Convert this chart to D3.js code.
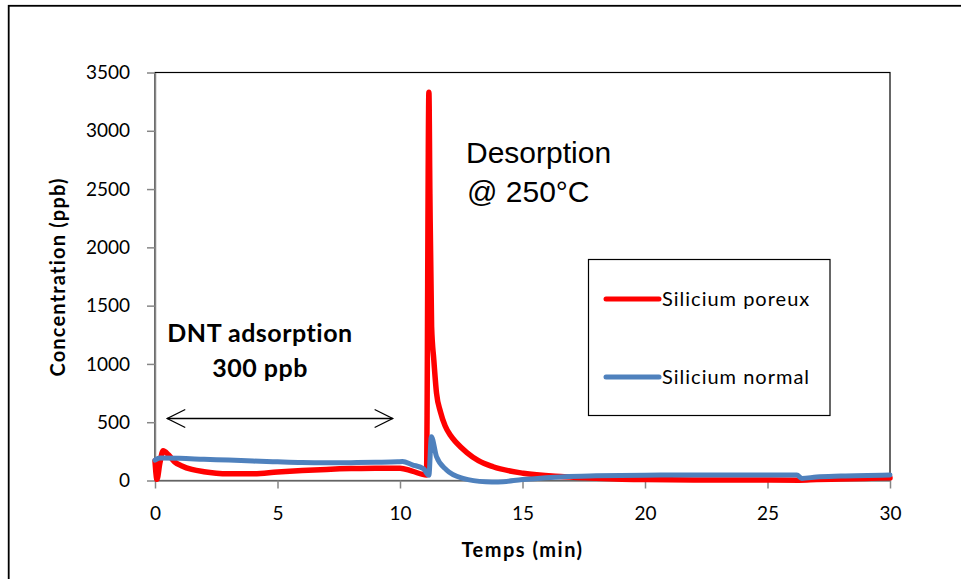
<!DOCTYPE html>
<html>
<head>
<meta charset="utf-8">
<script src="https://cdn.jsdelivr.net/npm/d3@7"></script>
<style>
body { margin: 0; background: #fff; }
.tick text { font-family: Lato, sans-serif; font-size: 19px; fill: #000; }
.axis path, .axis line { stroke: #868686; stroke-width: 1.5px; }
</style>
</head>
<body>
<script>
// Silicium poreux (red)
var poreuxT = [0, 0.08, 0.2, 0.33, 0.55, 0.8, 1.1, 1.5, 2, 2.5, 3, 4, 5, 6, 7, 8, 9, 10, 10.5, 11.08,
  11.18, 11.22, 11.29, 11.38, 11.49, 11.65, 11.84, 12.05, 12.3, 12.73, 13.2, 13.8, 15.03, 16.7, 18, 20, 22, 24, 26.3, 27, 28, 29, 30];
var poreuxV = [170, 10, 150, 255, 220, 160, 125, 95, 75, 63, 58, 57, 72, 85, 95, 102, 105, 106, 80, 48,
  3330, 2460, 1320, 1035, 750, 590, 470, 390, 325, 240, 170, 118, 62, 33, 20, 8, 5, 5, 3, 8, 13, 18, 23];
// Silicium normal (blue)
var normalT = [0, 0.2, 1, 2, 3, 4, 5, 6, 7, 8, 9, 9.9, 10.1, 10.5, 10.96, 11.18,
  11.28, 11.49, 11.9, 12.57, 13.5, 14, 15, 16.7, 18, 20, 22, 24, 26.2, 26.4, 27, 28, 30];
var normalV = [175, 192, 190, 182, 175, 167, 160, 154, 152, 153, 156, 160, 162, 135, 100, 45,
  376, 204, 90, 19, -10, -12, 8, 33, 40, 45, 48, 48, 47, 18, 30, 38, 47];

var xTicks = [0, 5, 10, 15, 20, 25, 30];
var yTicks = [0, 500, 1000, 1500, 2000, 2500, 3000, 3500];

var W = 961, H = 579;
var pLeft = 155, pRight = 890, pTop = 72.5, pBottom = 480.5;

var svg = d3.select("body").append("svg")
  .attr("width", W).attr("height", H);

// outer chart frame (runs off the right and bottom of the picture)
svg.append("rect")
  .attr("x", 8.7).attr("y", 5.8)
  .attr("width", 1000).attr("height", 1000)
  .attr("fill", "none").attr("stroke", "#000").attr("stroke-width", 1.8);

var x = d3.scaleLinear().domain([0, 30]).range([pLeft, pRight]);
var y = d3.scaleLinear().domain([0, 3500]).range([pBottom, pTop]);

// plot area border
svg.append("rect")
  .attr("x", pLeft).attr("y", pTop)
  .attr("width", pRight - pLeft).attr("height", pBottom - pTop)
  .attr("fill", "none").attr("stroke", "#000").attr("stroke-width", 1.2);

svg.append("g")
  .attr("class", "axis")
  .attr("transform", "translate(" + pLeft + ",0)")
  .call(d3.axisLeft(y).tickValues(yTicks).tickFormat(d3.format("d"))
    .tickSize(8).tickPadding(17).tickSizeOuter(0));

svg.append("g")
  .attr("class", "axis")
  .attr("transform", "translate(0," + pBottom + ")")
  .call(d3.axisBottom(x).tickValues(xTicks).tickSize(8).tickPadding(18).tickSizeOuter(0));

var line = d3.line()
  .x(function(d) { return x(d[0]); })
  .y(function(d) { return y(d[1]); })
  .curve(d3.curveMonotoneX);

svg.append("path")
  .datum(d3.zip(poreuxT, poreuxV))
  .attr("d", line)
  .attr("fill", "none").attr("stroke", "#ff0000")
  .attr("stroke-width", 5.5).attr("stroke-linejoin", "round").attr("stroke-linecap", "round");

svg.append("path")
  .datum(d3.zip(normalT, normalV))
  .attr("d", line)
  .attr("fill", "none").attr("stroke", "#4f81bd")
  .attr("stroke-width", 5).attr("stroke-linejoin", "round").attr("stroke-linecap", "round");

// axis titles
svg.append("text")
  .attr("transform", "translate(65,277) rotate(-90)")
  .attr("text-anchor", "middle")
  .style("font-family", "Lato, sans-serif").style("font-weight", "bold").style("font-size", "20px")
  .style("letter-spacing", "1.2px")
  .text("Concentration (ppb)");

svg.append("text")
  .attr("x", (pLeft + pRight) / 2).attr("y", 557)
  .attr("text-anchor", "middle")
  .style("font-family", "Lato, sans-serif").style("font-weight", "bold").style("font-size", "20px")
  .style("letter-spacing", "1.5px")
  .text("Temps (min)");

// annotations
var ann = svg.append("g")
  .style("font-family", "Lato, sans-serif").style("font-weight", "bold").style("font-size", "25px")
  .style("letter-spacing", "0.5px")
  .attr("text-anchor", "middle");
ann.append("text").attr("x", 260).attr("y", 342).text("DNT adsorption");
ann.append("text").attr("x", 260).attr("y", 377).text("300 ppb");

var des = svg.append("g")
  .style("font-family", "'Liberation Sans', Arial, sans-serif").style("font-size", "30px");
des.append("text").attr("x", 466).attr("y", 163).text("Desorption");
des.append("text").attr("x", 467).attr("y", 201.5).text("@ 250°C");

// double arrow
var ax0 = x(0.5), ax1 = x(9.7), ay = 418.5;
svg.append("line")
  .attr("x1", ax0).attr("x2", ax1).attr("y1", ay).attr("y2", ay)
  .attr("stroke", "#000").attr("stroke-width", 1.3);
svg.append("path")
  .attr("d", "M" + (ax0 + 18) + "," + (ay - 9) + "L" + ax0 + "," + ay + "L" + (ax0 + 18) + "," + (ay + 9) +
    "M" + (ax1 - 18) + "," + (ay - 9) + "L" + ax1 + "," + ay + "L" + (ax1 - 18) + "," + (ay + 9))
  .attr("fill", "none").attr("stroke", "#000").attr("stroke-width", 1.3);

// legend
var lg = svg.append("g");
lg.append("rect")
  .attr("x", 588.5).attr("y", 259.5).attr("width", 241.5).attr("height", 156)
  .attr("fill", "#fff").attr("stroke", "#000").attr("stroke-width", 1.2);
var items = [["Silicium poreux", "#ff0000", 299], ["Silicium normal", "#4f81bd", 377]];
items.forEach(function(it) {
  lg.append("line")
    .attr("x1", 606).attr("x2", 659).attr("y1", it[2]).attr("y2", it[2])
    .attr("stroke", it[1]).attr("stroke-width", 5).attr("stroke-linecap", "round");
  lg.append("text")
    .attr("x", 662).attr("y", it[2] + 7)
    .style("font-family", "Lato, sans-serif").style("font-size", "20px")
    .style("letter-spacing", "1px")
    .text(it[0]);
});
</script>
</body>
</html>
